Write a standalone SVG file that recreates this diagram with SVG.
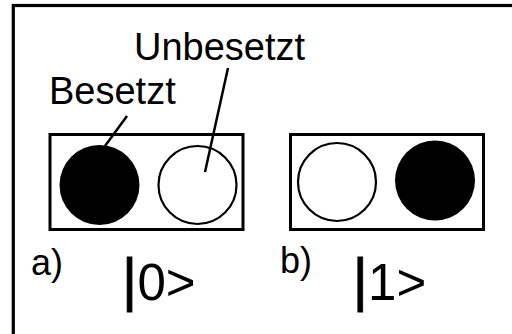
<svg xmlns="http://www.w3.org/2000/svg" width="512" height="334" viewBox="0 0 512 334">
<style>
.t{font-family:"Liberation Sans",Arial,sans-serif;fill:#000}
.box{fill:none;stroke:#000;stroke-width:3}
.open{fill:#fff;stroke:#000;stroke-width:2.2}
.full{fill:#000}
.lead{stroke:#000;stroke-width:2.5;fill:none}
.bar{font-size:60px;stroke:#000;stroke-width:0.8}
</style>
<rect x="0" y="0" width="512" height="334" fill="#fff"/>
<rect x="13.3" y="5.5" width="510" height="340" fill="none" stroke="#000" stroke-width="3.2"/>
<g id="state0">
<rect class="box" x="50" y="134.5" width="193" height="95"/>
<circle class="full" cx="99.5" cy="185" r="40"/>
<circle class="open" cx="197.5" cy="185" r="39"/>
<text class="t" x="31" y="275" font-size="36">a)</text>
<text class="t" x="121.8" y="300" font-size="51"><tspan class="bar">|</tspan>0&gt;</text>
</g>
<g id="state1">
<rect class="box" x="290.5" y="134.5" width="193" height="95"/>
<circle class="open" cx="337" cy="182" r="39"/>
<circle class="full" cx="435" cy="180.5" r="40"/>
<text class="t" x="280" y="273" font-size="36">b)</text>
<text class="t" x="352.5" y="300" font-size="51"><tspan class="bar">|</tspan>1&gt;</text>
</g>
<g id="labels">
<text class="t" x="134" y="60" font-size="38">Unbesetzt</text>
<text class="t" x="49" y="104" font-size="38">Besetzt</text>
</g>
<g id="connectors">
<line class="lead" x1="127" y1="116" x2="105" y2="146"/>
<line class="lead" x1="228" y1="68" x2="205" y2="172"/>
</g>
</svg>
